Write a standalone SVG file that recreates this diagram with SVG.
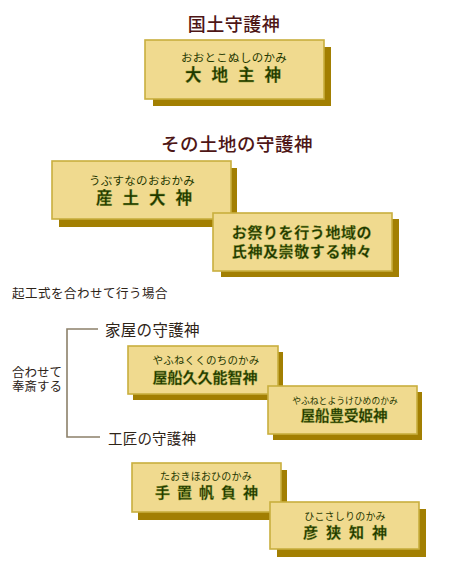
<svg xmlns="http://www.w3.org/2000/svg" width="473" height="567" viewBox="0 0 473 567">
<style>
.shadow{fill:#A27F02}
.box{fill:#F0DA8F;stroke:#C9AE3E;stroke-width:1.6}
.hl{fill:none;stroke:#FFF8DC;stroke-width:1}
.head{font-family:"Noto Sans CJK JP","Noto Sans CJK SC",sans-serif;fill:#4E1616;font-weight:500}
.lab{font-family:"Noto Sans CJK JP","Noto Sans CJK SC",sans-serif;fill:#2E2418}
.ruby{font-family:"Noto Sans CJK JP","Noto Sans CJK SC",sans-serif;fill:#1F3800;text-anchor:middle}
.name{font-family:"Noto Sans CJK JP","Noto Sans CJK SC",sans-serif;fill:#1F3800;font-weight:700;text-anchor:middle;stroke:#8A9A30;stroke-width:0.3}
.conn{fill:none;stroke:#8C806A;stroke-width:1.6}
</style>
<rect width="473" height="567" fill="#FFFFFF"/>
<g id="title1"><text class="head" x="234" y="31" font-size="18" text-anchor="middle" letter-spacing="0.5">国土守護神</text></g>
<g id="node-ookotonushi">
<rect class="shadow" x="153" y="47" width="178" height="59"/>
<rect class="box" x="145" y="40" width="179" height="59"/>
<text class="ruby" x="234" y="62" font-size="11.5" letter-spacing="0.3">おおとこぬしのかみ</text>
<text class="name" x="238" y="81" font-size="16.5" letter-spacing="10">大地主神</text>
</g>
<g id="title2"><text class="head" x="237" y="151" font-size="18.5" text-anchor="middle" letter-spacing="0.5">その土地の守護神</text></g>
<g id="node-ubusuna">
<rect class="shadow" x="59" y="168" width="178" height="59"/>
<rect class="box" x="52" y="161" width="179" height="58"/>
<text class="ruby" x="142" y="185" font-size="11.5" letter-spacing="0.3">うぶすなのおおかみ</text>
<text class="name" x="149" y="204" font-size="16.5" letter-spacing="10">産土大神</text>
</g>
<g id="node-ujigami">
<rect class="shadow" x="221" y="219" width="178" height="58"/>
<rect class="box" x="213" y="213" width="179" height="58"/>
<text class="name" x="302" y="238" font-size="15" letter-spacing="0.6">お祭りを行う地域の</text>
<text class="name" x="302" y="257" font-size="15" letter-spacing="0.6">氏神及崇敬する神々</text>
</g>
<g id="note"><text class="lab" x="12" y="298" font-size="12.5" letter-spacing="0.5">起工式を合わせて行う場合</text></g>
<g id="connectors">
<path class="conn" d="M98,329 H67 V437 H100"/>
</g>
<g id="label-kaoku"><text class="lab" x="105" y="336" font-size="15.5" letter-spacing="0.3">家屋の守護神</text></g>
<g id="label-awasete">
<text class="lab" x="12" y="377" font-size="12.5">合わせて</text>
<text class="lab" x="12" y="391" font-size="12.5">奉斎する</text>
</g>
<g id="node-kukunochi">
<rect class="shadow" x="133" y="352" width="150" height="48"/>
<rect class="box" x="128" y="346" width="150" height="48"/>
<text class="ruby" x="206" y="364" font-size="10.5" letter-spacing="0.2">やふねくくのちのかみ</text>
<text class="name" x="205" y="383" font-size="15" letter-spacing="0">屋船久久能智神</text>
</g>
<g id="node-toyouke">
<rect class="shadow" x="273" y="392" width="149" height="48"/>
<rect class="box" x="268" y="386" width="149" height="48"/>
<text class="ruby" x="345" y="404" font-size="8.8">やふねとようけひめのかみ</text>
<text class="name" x="344" y="421" font-size="14.5" letter-spacing="0">屋船豊受姫神</text>
</g>
<g id="label-kosho"><text class="lab" x="108" y="444" font-size="14.5" letter-spacing="0.2">工匠の守護神</text></g>
<g id="node-taoki">
<rect class="shadow" x="138" y="470" width="149" height="50"/>
<rect class="box" x="132" y="463" width="149" height="49"/>
<text class="ruby" x="206" y="480" font-size="10" letter-spacing="0.2">たおきほおひのかみ</text>
<text class="name" x="210" y="498" font-size="15" letter-spacing="7">手置帆負神</text>
</g>
<g id="node-hikosashiri">
<rect class="shadow" x="277" y="509" width="149" height="48"/>
<rect class="box" x="270" y="502" width="149" height="47"/>
<text class="ruby" x="345" y="520" font-size="10" letter-spacing="0.2">ひこさしりのかみ</text>
<text class="name" x="349" y="538" font-size="15" letter-spacing="8">彦狭知神</text>
</g>
</svg>
